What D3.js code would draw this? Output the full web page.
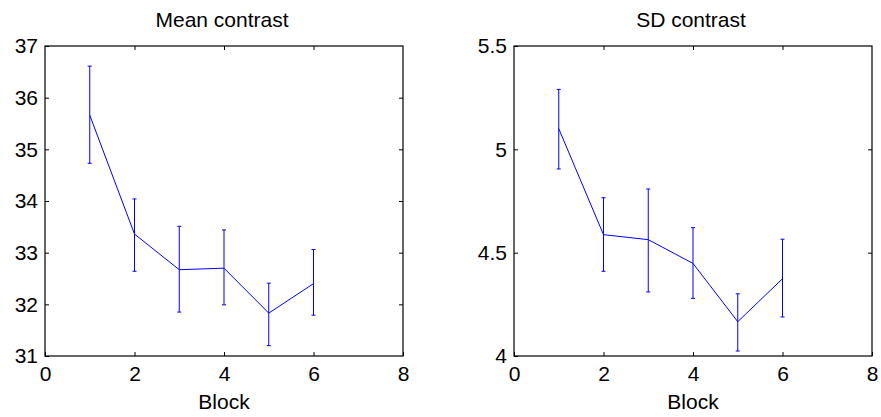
<!DOCTYPE html>
<html>
<head>
<meta charset="utf-8">
<script src="https://cdn.jsdelivr.net/npm/d3@7"></script>
<style>
  body { margin: 0; background: #fff; }
  svg text { font-family: "Liberation Sans", Arial, sans-serif; fill: #000; }
</style>
</head>
<body>
<svg id="chart" width="881" height="417"></svg>
<script>
// block numbers on the x axis
var blocks = [1, 2, 3, 4, 5, 6];
var xTicks = [0, 2, 4, 6, 8];

// mean contrast panel
var meanVals  = [35.66, 33.36, 32.67, 32.70, 31.83, 32.40];
var meanLower = [34.73, 32.64, 31.85, 31.99, 31.20, 31.79];
var meanUpper = [36.61, 34.04, 33.51, 33.44, 32.41, 33.06];
var meanTicks = [31, 32, 33, 34, 35, 36, 37];

// SD contrast panel
var sdVals  = [5.10, 4.587, 4.563, 4.448, 4.166, 4.374];
var sdLower = [4.905, 4.41, 4.31, 4.279, 4.024, 4.189];
var sdUpper = [5.29, 4.766, 4.808, 4.621, 4.301, 4.565];
var sdTicks = [4, 4.5, 5, 5.5];

var svg = d3.select("#chart");
var fontSize = 21;

function drawPanel(opts) {
    var x = d3.scaleLinear().domain([0, 8]).range([opts.left, opts.right]);
    var y = d3.scaleLinear().domain(opts.yDomain).range([356, 46]);
    var g = svg.append("g");

    // mirrored inward ticks on all four sides
    g.append("g").attr("transform", "translate(0,356)")
        .call(d3.axisBottom(x).tickValues(xTicks).tickFormat(d3.format("d"))
            .tickSizeInner(-4).tickSizeOuter(0).tickPadding(10));
    g.append("g").attr("transform", "translate(0,46)")
        .call(d3.axisTop(x).tickValues(xTicks.slice(1, -1)).tickFormat("")
            .tickSizeInner(-4).tickSizeOuter(0));
    g.append("g").attr("transform", "translate(" + opts.left + ",0)")
        .call(d3.axisLeft(y).tickValues(opts.yTicks).tickFormat(opts.fmt)
            .tickSizeInner(-4).tickSizeOuter(0).tickPadding(7));
    g.append("g").attr("transform", "translate(" + opts.right + ",0)")
        .call(d3.axisRight(y).tickValues(opts.yTicks.slice(1, -1)).tickFormat("")
            .tickSizeInner(-4).tickSizeOuter(0));

    g.selectAll(".domain").remove();
    g.selectAll(".tick line").attr("stroke", "#000");
    g.selectAll(".tick text").attr("font-size", fontSize)
        .attr("font-family", "Liberation Sans, Arial, sans-serif").attr("fill", "#000");

    g.append("rect")
        .attr("x", opts.left).attr("y", 46)
        .attr("width", opts.right - opts.left).attr("height", 310)
        .attr("fill", "none").attr("stroke", "#000").attr("stroke-width", 1.2);

    // error bars
    var bars = g.append("g").attr("stroke", "#0000ff").attr("stroke-width", 1).attr("fill", "none");
    blocks.forEach(function(b, i) {
        var cx = x(b);
        bars.append("line").attr("x1", cx).attr("x2", cx)
            .attr("y1", y(opts.lower[i])).attr("y2", y(opts.upper[i]));
        [opts.lower[i], opts.upper[i]].forEach(function(v) {
            bars.append("line").attr("x1", cx - 2).attr("x2", cx + 2)
                .attr("y1", y(v)).attr("y2", y(v));
        });
    });

    var line = d3.line().x(function(d, i) { return x(blocks[i]); }).y(function(d) { return y(d); });
    g.append("path").datum(opts.vals).attr("d", line)
        .attr("fill", "none").attr("stroke", "#0000ff").attr("stroke-width", 1);

    var mid = (opts.left + opts.right) / 2;
    g.append("text").attr("x", mid - 2).attr("y", 27).attr("text-anchor", "middle")
        .attr("font-size", fontSize).text(opts.title);
    g.append("text").attr("x", mid).attr("y", 409).attr("text-anchor", "middle")
        .attr("font-size", fontSize).text("Block");
}

drawPanel({
    left: 45, right: 403, yDomain: [31, 37], yTicks: meanTicks, fmt: d3.format("d"),
    vals: meanVals, lower: meanLower, upper: meanUpper, title: "Mean contrast"
});
drawPanel({
    left: 514, right: 872, yDomain: [4, 5.5], yTicks: sdTicks, fmt: d3.format("~g"),
    vals: sdVals, lower: sdLower, upper: sdUpper, title: "SD contrast"
});
</script>
</body>
</html>
